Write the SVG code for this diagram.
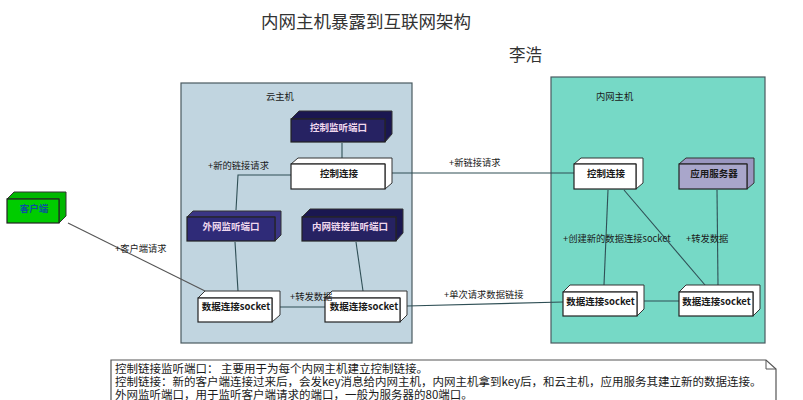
<svg xmlns="http://www.w3.org/2000/svg" width="803" height="400" viewBox="0 0 803 400">
<style>
text{font-family:"Noto Sans CJK SC","Liberation Sans",sans-serif;fill:#1a1a1a}
.title{fill:#333}
.host{stroke:#4a5a60;stroke-width:1.2}
.f{stroke:#222;stroke-width:1.2}
.s{stroke:#333;stroke-width:1;stroke-linejoin:round}
.white{fill:#fff}
.lb{font-size:9.5px;font-weight:700;text-anchor:middle}
.lw{font-size:9.5px;font-weight:700;text-anchor:middle;fill:#f0d8ee}
.lab{font-size:9.3px}
.c{fill:none;stroke:#2f4f55;stroke-width:1.1}
.g{stroke:#555}
.n{font-size:11.5px}
</style>
<rect width="803" height="400" fill="#fff"/>
<text class="title" x="261" y="28" font-size="17.5">内网主机暴露到互联网架构</text>
<text class="title" x="509" y="61" font-size="16.5">李浩</text>

<g id="cloud-host"><rect class="host" x="181" y="83" width="231" height="260" fill="#c1d5e0"/><text class="lab" x="266" y="100">云主机</text></g>
<g id="intranet-host"><rect class="host" x="551" y="77" width="214" height="266" fill="#76d9c6"/><text class="lab" x="596" y="100">内网主机</text></g>

<g id="connectors">
<path class="c" d="M342 143V158"/>
<path class="c" d="M291 175H238L236 210"/>
<path class="c" d="M235 242L238 291"/>
<path class="c" d="M356 242L363 291"/>
<path class="c g" d="M68 223L205 291"/>
<path class="c" d="M280 307H325"/>
<path class="c" d="M407 306L563 302"/>
<path class="c" d="M392 173H574"/>
<path class="c" d="M608 190L604 285"/>
<path class="c" d="M624 190L705 285"/>
<path class="c" d="M717 190L718 285"/>
<path class="c" d="M644 301H679"/>
</g>

<g id="client">
<path class="s" d="M7 199L14 192H66V216L59 223V199Z" fill="#00b800"/>
<rect class="f" x="7" y="199" width="52" height="24" fill="#00cc00"/>
<text class="lb" x="34" y="212" style="fill:#0a4fa0">客户端</text>
</g>
<g id="control-listen-port">
<path class="s" d="M291 119L299 111H392V134L385 142V119Z" fill="#1a1750"/>
<rect class="f" x="291" y="119" width="94" height="23" fill="#262262"/>
<text class="lw" x="338.500" y="131">控制监听端口</text>
</g>
<g id="cloud-control-conn">
<path class="s white" d="M291 164L298 158H392V183L385 189V164Z"/>
<rect class="f white" x="291" y="164" width="94" height="25"/>
<text class="lb" x="339" y="177">控制连接</text>
</g>
<g id="external-listen-port">
<path class="s" d="M187 217L193 211H281V235L275 241V217Z" fill="#3a3584"/>
<rect class="f" x="187" y="217" width="88" height="24" fill="#2f2b78"/>
<text class="lw" x="231" y="230">外网监听端口</text>
</g>
<g id="intranet-listen-port">
<path class="s" d="M302 217L310 209H403V233L396 241V217Z" fill="#1a1750"/>
<rect class="f" x="302" y="217" width="94" height="24" fill="#262262"/>
<text class="lw" x="350" y="230">内网链接监听端口</text>
</g>
<g id="socket-1">
<path class="s white" d="M198 298L205 291H280V315L272 322V298Z"/>
<rect class="f white" x="198" y="298" width="74" height="24"/>
<text class="lb" x="236" y="310">数据连接socket</text>
</g>
<g id="socket-2">
<path class="s white" d="M325 298L332 291H407V315L400 322V298Z"/>
<rect class="f white" x="325" y="298" width="75" height="24"/>
<text class="lb" x="364" y="310">数据连接socket</text>
</g>
<g id="intranet-control-conn">
<path class="s white" d="M574 164L581 158H643V183L636 189V164Z"/>
<rect class="f white" x="574" y="164" width="62" height="25"/>
<text class="lb" x="606" y="177">控制连接</text>
</g>
<g id="app-server">
<path class="s" d="M679 164L686 158H754V183L747 189V164Z" fill="#9a96c0"/>
<rect class="f" x="679" y="164" width="68" height="25" fill="#a9a6cb"/>
<text class="lb" x="714" y="177">应用服务器</text>
</g>
<g id="socket-3">
<path class="s white" d="M563 292L570 285H644V309L637 316V292Z"/>
<rect class="f white" x="563" y="292" width="74" height="24"/>
<text class="lb" x="600.500" y="305">数据连接socket</text>
</g>
<g id="socket-4">
<path class="s white" d="M679 292L686 285H760V309L753 316V292Z"/>
<rect class="f white" x="679" y="292" width="74" height="24"/>
<text class="lb" x="716.500" y="305">数据连接socket</text>
</g>

<g id="labels">
<text class="lab" x="208" y="168.500">+新的链接请求</text>
<text class="lab" x="115" y="251.500">+客户端请求</text>
<text class="lab" x="290" y="300">+转发数据</text>
<text class="lab" x="449" y="166">+新链接请求</text>
<text class="lab" x="444" y="298">+单次请求数据链接</text>
<text class="lab" x="563" y="241.500">+创建新的数据连接socket</text>
<text class="lab" x="686" y="241.500">+转发数据</text>
</g>

<g id="note">
<path d="M111 360H766L776 369V401H111Z" fill="#fff" stroke="#555" stroke-width="1.2"/>
<path d="M766 360V369H776" fill="none" stroke="#555"/>
<text class="n" x="115" y="373">控制链接监听端口： 主要用于为每个内网主机建立控制链接。</text>
<text class="n" x="115" y="386">控制链接：新的客户端连接过来后，会发key消息给内网主机，内网主机拿到key后，和云主机，应用服务其建立新的数据连接。</text>
<text class="n" x="115" y="399">外网监听端口，用于监听客户端请求的端口，一般为服务器的80端口。</text>
</g>
</svg>
